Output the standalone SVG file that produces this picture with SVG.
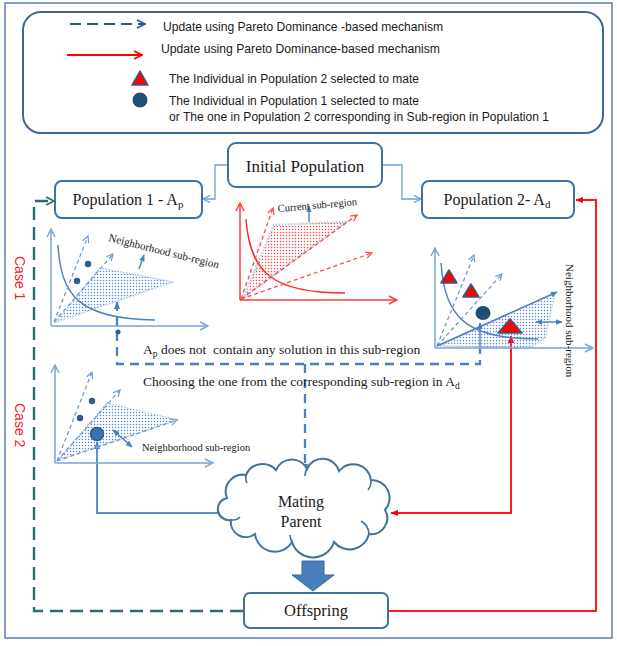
<svg xmlns="http://www.w3.org/2000/svg" width="617" height="646" viewBox="0 0 617 646">
<style>
.sans{font-family:"Liberation Sans",Arial,sans-serif;fill:#1a1a1a}
.serif{font-family:"Liberation Serif","Times New Roman",serif;fill:#1a1a1a}
.node{fill:#fff;stroke:#41719c;stroke-width:2}
.axis{fill:none;stroke:#7aa3d6;stroke-width:1.5}
.axisR{fill:none;stroke:#ff3a3a;stroke-width:1.5}
.curve{fill:none;stroke:#4a7fc1;stroke-width:1.4}
.curveR{fill:none;stroke:#ff2a2a;stroke-width:1.4}
.ray{fill:none;stroke:#6d9ad4;stroke-width:1.3;stroke-dasharray:4 3}
.rayR{fill:none;stroke:#ff4a4a;stroke-width:1.3;stroke-dasharray:4 3}
.shade{fill:url(#dotB);stroke:#a9c4e8;stroke-width:1.5;stroke-dasharray:1.5 1.5}
.shadeR{fill:url(#dotR);stroke:#b9cdea;stroke-width:2.5;stroke-dasharray:1.5 1.5}
.dot{fill:#2f5b8f}
.tri{fill:#ff0000;stroke:#2f5b8f;stroke-width:1.5;stroke-linejoin:round}
.small{fill:none;stroke:#4a7fc1;stroke-width:1.4}
</style>
<defs>
<pattern id="dotB" width="3" height="3" patternUnits="userSpaceOnUse"><circle cx="1.5" cy="1.5" r="0.75" fill="#5287cc"/></pattern>
<pattern id="dotR" width="3" height="3" patternUnits="userSpaceOnUse"><circle cx="1.5" cy="1.5" r="0.75" fill="#ff4040"/></pattern>
<marker id="chAx" viewBox="0 0 10 10" refX="9" refY="5" markerWidth="10" markerHeight="10" orient="auto" markerUnits="userSpaceOnUse"><path d="M1,1 L9,5 L1,9" fill="none" stroke="#7aa3d6" stroke-width="1.4"/></marker>
<marker id="chAxR" viewBox="0 0 10 10" refX="9" refY="5" markerWidth="10" markerHeight="10" orient="auto" markerUnits="userSpaceOnUse"><path d="M1,1 L9,5 L1,9" fill="none" stroke="#ff3a3a" stroke-width="1.4"/></marker>
<marker id="chRay" viewBox="0 0 10 10" refX="9" refY="5" markerWidth="8" markerHeight="8" orient="auto" markerUnits="userSpaceOnUse"><path d="M1,1 L9,5 L1,9" fill="none" stroke="#6d9ad4" stroke-width="1.5"/></marker>
<marker id="chRayR" viewBox="0 0 10 10" refX="9" refY="5" markerWidth="8" markerHeight="8" orient="auto" markerUnits="userSpaceOnUse"><path d="M1,1 L9,5 L1,9" fill="none" stroke="#ff4a4a" stroke-width="1.5"/></marker>
<marker id="chConn" viewBox="0 0 10 10" refX="9" refY="5" markerWidth="9" markerHeight="9" orient="auto" markerUnits="userSpaceOnUse"><path d="M1,1 L9,5 L1,9" fill="none" stroke="#6f9fd8" stroke-width="1.4"/></marker>
<marker id="chTeal" viewBox="0 0 10 10" refX="9" refY="5" markerWidth="10" markerHeight="10" orient="auto" markerUnits="userSpaceOnUse"><path d="M1,1 L9,5 L1,9" fill="none" stroke="#2e6b6f" stroke-width="1.8"/></marker>
<marker id="chLeg" viewBox="0 0 10 10" refX="9" refY="5" markerWidth="10" markerHeight="10" orient="auto" markerUnits="userSpaceOnUse"><path d="M1,1 L9,5 L1,9" fill="none" stroke="#2f5597" stroke-width="1.6"/></marker>
<marker id="chLegR" viewBox="0 0 10 10" refX="9" refY="5" markerWidth="10" markerHeight="10" orient="auto" markerUnits="userSpaceOnUse"><path d="M1,1 L9,5 L1,9" fill="none" stroke="#ff0000" stroke-width="1.6"/></marker>
<marker id="triR" viewBox="0 0 10 10" refX="9" refY="5" markerWidth="8" markerHeight="8" orient="auto-start-reverse" markerUnits="userSpaceOnUse"><path d="M0,1 L10,5 L0,9 Z" fill="#ff0000"/></marker>
<marker id="triB" viewBox="0 0 10 10" refX="9" refY="5" markerWidth="8" markerHeight="8" orient="auto-start-reverse" markerUnits="userSpaceOnUse"><path d="M0,1 L10,5 L0,9 Z" fill="#4a7fc1"/></marker>
<marker id="triS" viewBox="0 0 10 10" refX="9" refY="5" markerWidth="7" markerHeight="7" orient="auto-start-reverse" markerUnits="userSpaceOnUse"><path d="M0,1 L10,5 L0,9 Z" fill="#4a7fc1"/></marker>
</defs>

<rect x="5" y="3" width="607" height="635" fill="#fff" stroke="#5a7fae" stroke-width="1.5"/>

<g id="legend">
<rect x="23" y="12" width="580" height="121" rx="18" fill="#fff" stroke="#3f6796" stroke-width="2"/>
<line x1="70" y1="24" x2="145" y2="24" stroke="#2f5597" stroke-width="2" stroke-dasharray="11 6" marker-end="url(#chLeg)"/>
<text class="sans" x="163" y="31" font-size="12" textLength="280" lengthAdjust="spacingAndGlyphs">Update using Pareto Dominance -based  mechanism</text>
<line x1="67" y1="55" x2="142" y2="55" stroke="#ff0000" stroke-width="2" marker-end="url(#chLegR)"/>
<text class="sans" x="161" y="53" font-size="12" textLength="279" lengthAdjust="spacingAndGlyphs">Update using Pareto Dominance-based  mechanism</text>
<polygon class="tri" points="140,71 132,85 148,85"/>
<text class="sans" x="169" y="83" font-size="12" textLength="250" lengthAdjust="spacingAndGlyphs">The Individual in Population 2 selected to mate</text>
<circle cx="140" cy="100" r="7.5" fill="#1f4e79"/>
<text class="sans" x="169" y="105" font-size="12" textLength="250" lengthAdjust="spacingAndGlyphs">The Individual in Population 1 selected to mate</text>
<text class="sans" x="169" y="121" font-size="12" textLength="380" lengthAdjust="spacingAndGlyphs">or The one in Population 2 corresponding in Sub-region in Population 1</text>
</g>

<g id="connectors">
<path d="M228,165 H215 V199 H203" fill="none" stroke="#6f9fd8" stroke-width="1.3" marker-end="url(#chConn)"/>
<path d="M382,165 H402 V199 H421" fill="none" stroke="#6f9fd8" stroke-width="1.3" marker-end="url(#chConn)"/>
<path d="M243,611 H34 V201 H54" fill="none" stroke="#2e6b6f" stroke-width="2.4" stroke-dasharray="13 7" marker-end="url(#chTeal)"/>
<path d="M389,611 H596 V200 H576" fill="none" stroke="#ff1a1a" stroke-width="2" marker-end="url(#triR)"/>
<path d="M511,336 V513 H391" fill="none" stroke="#ff1a1a" stroke-width="2" marker-start="url(#triR)" marker-end="url(#triR)"/>
<path d="M97,442 V513 H228" fill="none" stroke="#5b8fd0" stroke-width="2" marker-start="url(#triB)" marker-end="url(#triB)"/>
<path d="M117,302 V364 H480 V348" fill="none" stroke="#4a7fc1" stroke-width="2.3" stroke-dasharray="9 6" marker-start="url(#triB)"/>
<path d="M305,364 V471" fill="none" stroke="#4a7fc1" stroke-width="2.3" stroke-dasharray="9 6" marker-end="url(#triB)"/>
</g>

<g id="case-labels">
<text class="sans" transform="translate(15,256) rotate(90)" font-size="14" style="fill:#ff2020">Case 1</text>
<text class="sans" transform="translate(15,403) rotate(90)" font-size="14" style="fill:#ff2020">Case 2</text>
</g>

<g id="initial-population">
<rect class="node" x="228" y="143" width="154" height="44" rx="8"/>
<text class="serif" x="305" y="172" font-size="17" text-anchor="middle">Initial Population</text>
</g>

<g id="population-1">
<rect class="node" x="55" y="181" width="147" height="37" rx="7"/>
<text class="serif" x="128" y="205" font-size="16" text-anchor="middle">Population 1 - A<tspan font-size="11" dy="3">p</tspan></text>
</g>

<g id="population-2">
<rect class="node" x="422" y="181" width="152" height="37" rx="7"/>
<text class="serif" x="497" y="205" font-size="16" text-anchor="middle">Population 2- A<tspan font-size="11" dy="3">d</tspan></text>
</g>

<g id="plot-population-1">
<polygon class="shade" points="56,322 100,268 173,282"/>
<path class="axis" d="M51,326 V229" marker-end="url(#chAx)"/>
<path class="axis" d="M51,326 H208" marker-end="url(#chAx)"/>
<path class="curve" d="M58,245 C61,295 78,319 155,320"/>
<path class="ray" d="M54,322 L88,236" marker-end="url(#chRay)"/>
<path class="ray" d="M54,322 L113,254" marker-end="url(#chRay)"/>
<circle class="dot" cx="88" cy="264" r="3.2"/>
<circle class="dot" cx="77" cy="281" r="3.2"/>
<path class="small" d="M139,269 L144,255" marker-end="url(#triS)"/>
<text class="serif" transform="translate(108,241) rotate(14)" font-size="11">Neighborhood sub-region</text>
<circle class="dot" cx="118" cy="332" r="2.5"/>
</g>

<g id="plot-initial">
<polygon class="shadeR" points="243,298 274,225 346,222"/>
<path class="axisR" d="M240,300 V203" marker-end="url(#chAxR)"/>
<path class="axisR" d="M240,300 H397" marker-end="url(#chAxR)"/>
<path class="curveR" d="M246,219 C250,275 275,293 345,293"/>
<path class="rayR" d="M241,299 L273,208" marker-end="url(#chRayR)"/>
<path class="rayR" d="M241,299 L357,215" marker-end="url(#chRayR)"/>
<path class="rayR" d="M241,299 L372,253" marker-end="url(#chRayR)"/>
<path class="small" d="M309,222 V206" marker-end="url(#triS)"/>
<text class="serif" transform="translate(278,212) rotate(-5)" font-size="10.5">Current sub-region</text>
</g>

<g id="plot-population-2">
<polygon class="shade" points="440,346 555,293 545,338 530,348"/>
<path class="axis" d="M435,348 V248" marker-end="url(#chAx)"/>
<path class="axis" d="M435,348 H593" marker-end="url(#chAx)"/>
<path class="curve" d="M441,263 C445,318 466,339 538,339"/>
<path class="ray" d="M437,346 L474,255" marker-end="url(#chRay)"/>
<path class="ray" d="M437,346 L502,274" marker-end="url(#chRay)"/>
<path d="M437,346 L557,292" fill="none" stroke="#4a7fc1" stroke-width="1.5" marker-end="url(#triS)"/>
<polygon class="tri" points="449,270 441,283 457,283"/>
<polygon class="tri" points="471,284 463,297 479,297"/>
<path class="small" d="M480,347 V323" marker-end="url(#triS)"/>
<ellipse cx="483" cy="313" rx="7.5" ry="7" fill="#1f4e79"/>
<polygon class="tri" points="510,319 498,333 522,333"/>
<path class="small" d="M536,322 H562" marker-start="url(#triS)" marker-end="url(#triS)"/>
<text class="serif" transform="translate(566,264) rotate(90)" font-size="11">Neighborhood sub-region</text>
</g>

<g id="plot-case-2">
<polygon class="shade" points="58,460 107,403 177,420"/>
<path class="axis" d="M55,463 V365" marker-end="url(#chAx)"/>
<path class="axis" d="M55,463 H213" marker-end="url(#chAx)"/>
<path class="ray" d="M57,461 L92,372" marker-end="url(#chRay)"/>
<path class="ray" d="M57,461 L120,390" marker-end="url(#chRay)"/>
<path class="ray" d="M57,461 L177,420" marker-end="url(#chRay)"/>
<circle class="dot" cx="92" cy="401" r="3.2"/>
<circle class="dot" cx="80" cy="418" r="3.2"/>
<circle cx="97" cy="434" r="6.5" fill="#3a6fb0" stroke="#2f5b8f" stroke-width="1.5"/>
<path class="small" d="M113,430 L132,447" marker-start="url(#triS)" marker-end="url(#triS)"/>
<text class="serif" x="142" y="451" font-size="10.5">Neighborhood sub-region</text>
</g>

<g id="annotations">
<text class="serif" x="143" y="354" font-size="13.5">A<tspan font-size="9.5" dy="3">p</tspan><tspan dy="-3"> does not&#160; contain any solution in this sub-region</tspan></text>
<text class="serif" x="143" y="386" font-size="13.5">Choosing the one from the corresponding sub-region in A<tspan font-size="9.5" dy="3">d</tspan></text>
</g>

<g id="mating-parent">
<path d="M227,498 A17,17 0 0 1 246,475 A18,18 0 0 1 276,470 A17,17 0 0 1 307,469 A17,17 0 0 1 339,471 A18,18 0 0 1 371,480 A18,18 0 0 1 385,510 A16,16 0 0 1 369,534 A20,20 0 0 1 334,542 A22,22 0 0 1 292,542 A20,20 0 0 1 255,534 A15,15 0 0 1 231,520 A10,10 0 0 1 227,498 Z" fill="#fff" stroke="#41719c" stroke-width="2"/>
<path d="M232,520 A10,10 0 0 0 240,517 M246,475 A12,12 0 0 0 247,483 M307,469 A12,12 0 0 0 305,476 M371,480 A14,14 0 0 1 368,490 M369,534 A16,16 0 0 0 361,521 M292,542 A14,14 0 0 1 290,535" fill="none" stroke="#41719c" stroke-width="1.6"/>
<text class="serif" x="301" y="507" font-size="16" text-anchor="middle">Mating</text>
<text class="serif" x="301" y="527" font-size="16" text-anchor="middle">Parent</text>
</g>

<g id="block-arrow">
<polygon points="302,561 324,561 324,575 334,575 313,591 292,575 302,575" fill="#4a7ebb" stroke="#3a6596" stroke-width="1"/>
</g>

<g id="offspring">
<rect class="node" x="244" y="593" width="144" height="35" rx="6"/>
<text class="serif" x="316" y="616" font-size="16.5" text-anchor="middle">Offspring</text>
</g>
</svg>
